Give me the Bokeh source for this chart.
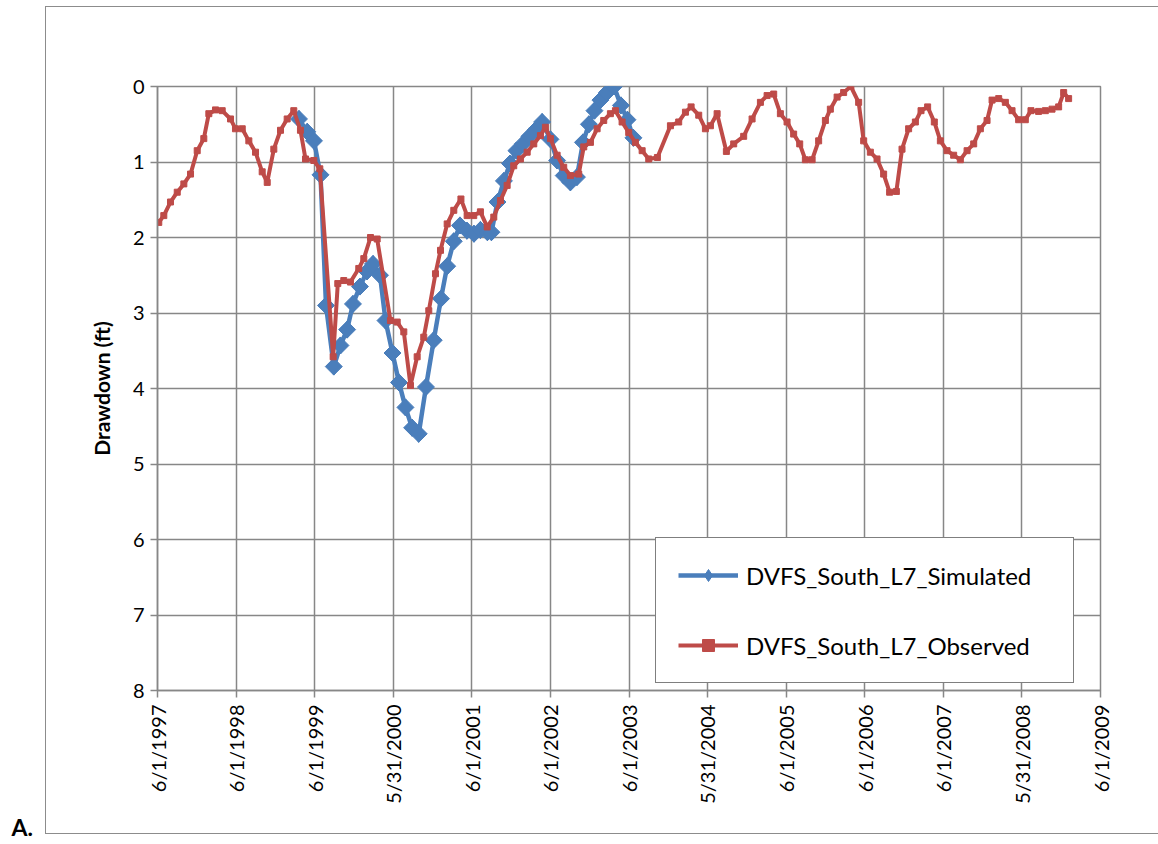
import math
import datetime as dt
from bokeh.plotting import figure
from bokeh.models import Range1d, FixedTicker, Legend, LegendItem, Title
from bokeh.embed import file_html
from bokeh.resources import INLINE

# ---- data (x = date as decimal year, y = drawdown in ft) ----
tick_labels = ["6/1/1997", "6/1/1998", "6/1/1999", "5/31/2000", "6/1/2001",
               "6/1/2002", "6/1/2003", "5/31/2004", "6/1/2005", "6/1/2006",
               "6/1/2007", "5/31/2008", "6/1/2009"]
y_ticks = [0, 1, 2, 3, 4, 5, 6, 7, 8]

sim_year = [1999.214, 1999.319, 1999.405, 1999.488, 1999.558, 1999.657, 1999.742,
            1999.827, 1999.901, 1999.990, 2000.079, 2000.156, 2000.245, 2000.315,
            2000.404, 2000.487, 2000.569, 2000.654, 2000.738, 2000.830, 2000.929,
            2001.021, 2001.100, 2001.184, 2001.263, 2001.352, 2001.441, 2001.523,
            2001.612, 2001.663, 2001.740, 2001.822, 2001.899, 2001.981, 2002.064,
            2002.147, 2002.230, 2002.308, 2002.414, 2002.499, 2002.583, 2002.668,
            2002.751, 2002.828, 2002.904, 2002.974, 2003.050, 2003.133, 2003.222,
            2003.311, 2003.394, 2003.470]
sim_drawdown = [0.43, 0.60, 0.72, 1.17, 2.90, 3.71, 3.43,
                3.22, 2.88, 2.65, 2.45, 2.35, 2.50, 3.10,
                3.53, 3.92, 4.25, 4.52, 4.60, 3.98, 3.36,
                2.81, 2.38, 2.05, 1.84, 1.91, 1.95, 1.90,
                1.93, 1.93, 1.53, 1.25, 1.02, 0.85, 0.76,
                0.66, 0.57, 0.47, 0.70, 0.98, 1.18, 1.27,
                1.20, 0.74, 0.50, 0.32, 0.18, 0.08, 0.00,
                0.25, 0.44, 0.68]

obs_year = [1997.430, 1997.494, 1997.579, 1997.665, 1997.749, 1997.834, 1997.919,
            1998.003, 1998.067, 1998.152, 1998.237, 1998.343, 1998.406, 1998.492,
            1998.576, 1998.661, 1998.746, 1998.810, 1998.894, 1998.979, 1999.064,
            1999.148, 1999.233, 1999.297, 1999.403, 1999.479, 1999.649, 1999.708,
            1999.784, 1999.869, 1999.975, 2000.039, 2000.124, 2000.209, 2000.378,
            2000.464, 2000.548, 2000.633, 2000.718, 2000.802, 2000.866, 2000.951,
            2001.015, 2001.100, 2001.184, 2001.275, 2001.354, 2001.438, 2001.523,
            2001.609, 2001.693, 2001.778, 2001.863, 2001.947, 2002.032, 2002.118,
            2002.202, 2002.287, 2002.350, 2002.414, 2002.499, 2002.583, 2002.668,
            2002.774, 2002.838, 2002.923, 2003.008, 2003.092, 2003.177, 2003.241,
            2003.326, 2003.410, 2003.495, 2003.581, 2003.665, 2003.775, 2003.941,
            2004.046, 2004.132, 2004.204, 2004.301, 2004.386, 2004.450, 2004.535,
            2004.653, 2004.746, 2004.873, 2004.980, 2005.086, 2005.171, 2005.255,
            2005.340, 2005.425, 2005.509, 2005.586, 2005.658, 2005.744, 2005.827,
            2005.913, 2005.976, 2006.062, 2006.145, 2006.237, 2006.336, 2006.400,
            2006.485, 2006.570, 2006.654, 2006.730, 2006.816, 2006.888, 2006.972,
            2007.058, 2007.130, 2007.214, 2007.299, 2007.376, 2007.461, 2007.545,
            2007.630, 2007.716, 2007.800, 2007.885, 2007.970, 2008.034, 2008.118,
            2008.203, 2008.288, 2008.372, 2008.457, 2008.529, 2008.626, 2008.712,
            2008.797, 2008.881, 2008.945, 2009.008]
obs_drawdown = [1.80, 1.71, 1.53, 1.40, 1.29, 1.16, 0.85,
                0.69, 0.36, 0.31, 0.32, 0.43, 0.56, 0.56,
                0.72, 0.87, 1.13, 1.27, 0.83, 0.58, 0.43,
                0.32, 0.58, 0.96, 0.98, 1.09, 3.58, 2.61,
                2.57, 2.59, 2.41, 2.28, 2.00, 2.02, 3.10,
                3.12, 3.25, 3.96, 3.58, 3.32, 2.97, 2.48,
                2.17, 1.82, 1.64, 1.49, 1.71, 1.71, 1.66,
                1.86, 1.73, 1.51, 1.31, 1.05, 0.96, 0.87,
                0.76, 0.65, 0.54, 0.69, 0.91, 1.07, 1.18,
                1.16, 0.80, 0.74, 0.56, 0.45, 0.36, 0.32,
                0.47, 0.61, 0.74, 0.85, 0.96, 0.94, 0.52,
                0.47, 0.34, 0.27, 0.38, 0.56, 0.52, 0.36,
                0.86, 0.76, 0.66, 0.43, 0.21, 0.12, 0.10,
                0.36, 0.47, 0.63, 0.76, 0.97, 0.97, 0.72,
                0.45, 0.30, 0.14, 0.08, 0.00, 0.21, 0.72,
                0.87, 0.96, 1.16, 1.40, 1.39, 0.83, 0.56,
                0.47, 0.32, 0.27, 0.47, 0.72, 0.85, 0.91,
                0.97, 0.85, 0.76, 0.56, 0.45, 0.18, 0.16,
                0.21, 0.32, 0.44, 0.44, 0.32, 0.33, 0.32,
                0.30, 0.27, 0.08, 0.16]


def decimal_year(label):
    m, d, y = map(int, label.split("/"))
    start = dt.date(y, 1, 1)
    n = (dt.date(y + 1, 1, 1) - start).days
    return y + (dt.date(y, m, d) - start).days / n


tick_pos = [decimal_year(s) for s in tick_labels]

BLUE = "#4A7EBB"
RED = "#BE4B48"
GRID = "#878787"
BORDER = "#8C8C8C"
FONT = "Lato"

W, H = 1158, 844
p = figure(width=W, height=H, output_backend="svg", toolbar_location=None,
           x_range=Range1d(tick_pos[0], tick_pos[-1]), y_range=Range1d(8, 0),
           min_border_left=157, min_border_right=58, min_border_top=86,
           min_border_bottom=154)
p.background_fill_color = "white"
p.border_fill_alpha = 0
p.outline_line_color = GRID
p.outline_line_width = 1.5

# outer chart-area border (left/top/bottom; right side is cut off by the page)
line = f"linear-gradient({BORDER}, {BORDER})"
p.styles = {
    "background-color": "white",
    "background-image": f"{line}, {line}, {line}",
    "background-size": "1px 828px, 1113px 1px, 1113px 1px",
    "background-position": "45px 6px, 45px 6px, 45px 833px",
    "background-repeat": "no-repeat",
}

# axes
p.xaxis.ticker = FixedTicker(ticks=tick_pos)
p.xaxis.major_label_overrides = {t: s for t, s in zip(tick_pos, tick_labels)}
p.xaxis.major_label_orientation = math.pi / 2
p.yaxis.ticker = FixedTicker(ticks=y_ticks)
for ax in (p.xaxis, p.yaxis):
    ax.axis_line_color = GRID
    ax.axis_line_width = 1.5
    ax.major_tick_line_color = GRID
    ax.major_tick_line_width = 1.5
    ax.major_tick_out = 7
    ax.major_tick_in = 0
    ax.minor_tick_line_color = None
    ax.major_label_text_font = FONT
    ax.major_label_text_font_size = "20px"
    ax.major_label_text_color = "black"
p.xaxis.major_label_standoff = 7
p.yaxis.major_label_standoff = 6
p.yaxis.axis_label = "Drawdown (ft)"
p.yaxis.axis_label_text_font = FONT
p.yaxis.axis_label_text_font_style = "bold"
p.yaxis.axis_label_text_font_size = "21px"
p.yaxis.axis_label_text_color = "black"
p.yaxis.axis_label_standoff = 16

p.xgrid.ticker = FixedTicker(ticks=tick_pos)
p.ygrid.ticker = FixedTicker(ticks=y_ticks)
for g in (p.xgrid, p.ygrid):
    g.grid_line_color = GRID
    g.grid_line_width = 1.5

# series
# Excel-style diamond key; drawn beneath the (larger) rotated-square markers,
# so it only shows as the legend swatch
bkey = p.scatter(sim_year, sim_drawdown, marker="diamond", size=17,
                 fill_color=BLUE, line_color=BLUE)
bl = p.line(sim_year, sim_drawdown, line_color=BLUE, line_width=4.5)
bs = p.scatter(sim_year, sim_drawdown, marker="square", angle=math.pi / 4,
               size=12, fill_color=BLUE, line_color=BLUE)
rl = p.line(obs_year, obs_drawdown, line_color=RED, line_width=4)
rs = p.scatter(obs_year, obs_drawdown, marker="square", size=6,
               fill_color=RED, line_color=RED)

legend = Legend(items=[LegendItem(label="DVFS_South_L7_Simulated", renderers=[bl, bkey]),
                       LegendItem(label="DVFS_South_L7_Observed", renderers=[rl, rs])],
                location=(498, 7), orientation="vertical")
legend.border_line_color = "black"
legend.border_line_width = 1.2
legend.background_fill_color = "white"
legend.background_fill_alpha = 1.0
legend.padding = 22
legend.spacing = 40
legend.margin = 0
legend.label_height = 30
legend.glyph_height = 30
legend.glyph_width = 60
legend.label_standoff = 8
legend.label_width = 305
legend.label_text_font = FONT
legend.label_text_font_size = "24px"
legend.label_text_color = "black"
p.add_layout(legend)

# panel label "A." at the lower-left, outside the chart-area border
p.add_layout(Title(text="A.", align="left", offset=-146, standoff=8,
                   text_font=FONT, text_font_style="bold", text_font_size="23px",
                   text_color="black"), "below")

open("out.html", "w").write(file_html(p, INLINE))
